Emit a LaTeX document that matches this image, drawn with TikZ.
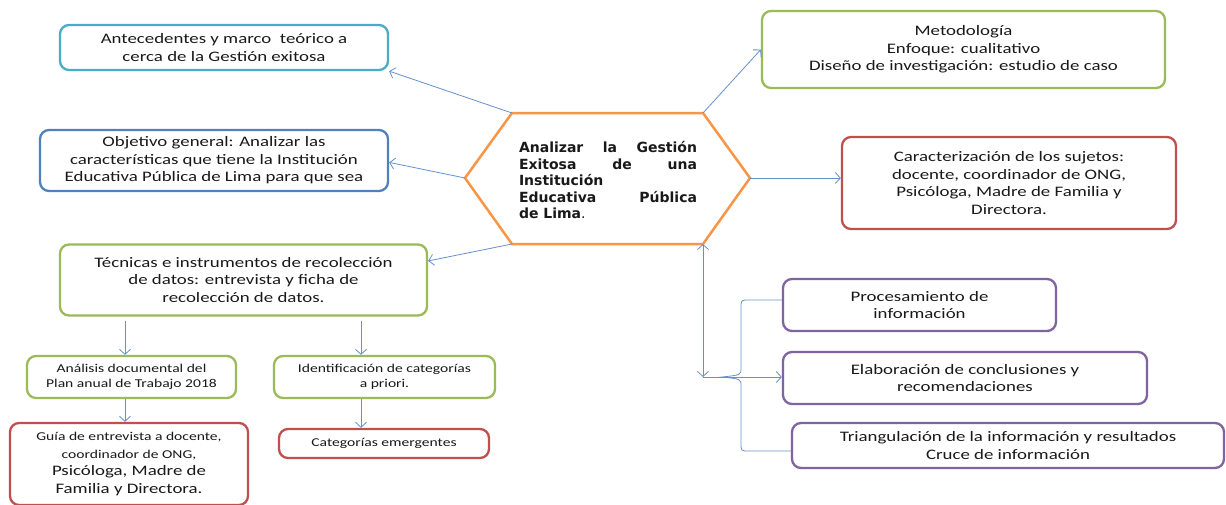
\documentclass[tikz,border=0pt]{standalone}
\usepackage{fontspec}
\setmainfont{Carlito}[FakeStretch=1.3]
\newfontfamily\hexfont{DejaVu Sans}
\usetikzlibrary{arrows.meta,calc}
\definecolor{cCyan}{RGB}{75,172,198}
\definecolor{cBlue}{RGB}{79,129,189}
\definecolor{cGreen}{RGB}{155,187,89}
\definecolor{cRed}{RGB}{192,80,77}
\definecolor{cPurple}{RGB}{128,100,162}
\definecolor{cOrange}{RGB}{247,150,70}
\definecolor{cArrow}{RGB}{100,145,205}
\definecolor{cText}{RGB}{25,25,25}
\newcommand\hexline[2]{\makebox[178pt][#1]{#2}}
\begin{document}
\begin{tikzpicture}[x=1pt,y=-1pt,
  box/.style={draw, rounded corners=9pt, line width=2.3pt, fill=white, align=center, inner sep=0pt,
    text=cText, font=\fontsize{14.5}{17.5}\selectfont},
  smallbox/.style={box, font=\fontsize{12}{15}\selectfont},
  conn/.style={draw=cArrow, line width=0.8pt, -{Straight Barb[length=5pt,width=11pt]}},
  bothconn/.style={draw=cArrow, line width=0.8pt, {Straight Barb[length=5pt,width=11pt]}-{Straight Barb[length=5pt,width=11pt]}},
  brace/.style={draw=cArrow, line width=0.8pt}]
\useasboundingbox (0,0) rectangle (1226,504);
\fill[white] (0,0) rectangle (1226,504);

% boxes
\node[box, draw=cCyan, minimum width=328pt, minimum height=45pt] (ante) at (224,47.5)
  {Antecedentes y marco\ \ teórico a\\cerca de la Gestión exitosa};
\node[box, draw=cBlue, minimum width=348pt, minimum height=61pt] (obj) at (214,160.5)
  {Objetivo general: Analizar las\\características que tiene la Institución\\Educativa Pública de Lima para que sea};
\node[box, draw=cGreen, minimum width=367pt, minimum height=71pt] (tec) at (243.5,280)
  {Técnicas e instrumentos de recolección\\de datos: entrevista y ficha de\\recolección de datos.};
\node[smallbox, draw=cGreen, minimum width=209pt, minimum height=42pt] (anal) at (131.5,377)
  {Análisis documental del\\Plan anual de Trabajo 2018};
\node[smallbox, draw=cGreen, minimum width=221pt, minimum height=42pt] (iden) at (384.5,377)
  {Identificación de categorías\\a priori.};
\node[box, draw=cRed, minimum width=238pt, minimum height=82pt] (guia) at (129,464)
  {{\fontsize{12}{17}\selectfont Guía de entrevista a docente,}\\{\fontsize{12}{17}\selectfont coordinador de ONG,}\\Psicóloga, Madre de\\Familia y Directora.};
\node[smallbox, draw=cRed, minimum width=210pt, minimum height=29pt] (cat) at (384,443.5)
  {Categorías emergentes};
\node[box, draw=cGreen, minimum width=403pt, minimum height=77pt] (meto) at (963.5,49.5)
  {Metodología\\Enfoque: cualitativo\\Diseño de investigación: estudio de caso};
\node[box, draw=cRed, minimum width=334pt, minimum height=92pt] (car) at (1009,183)
  {Caracterización de los sujetos:\\docente,\ coordinador de ONG,\\Psicóloga, Madre de Familia y\\Directora.};
\node[box, draw=cPurple, minimum width=273pt, minimum height=52pt] (proc) at (919.5,305)
  {Procesamiento de\\información};
\node[box, draw=cPurple, minimum width=364pt, minimum height=52pt] (elab) at (965,378)
  {Elaboración de conclusiones y\\recomendaciones};
\node[box, draw=cPurple, minimum width=432pt, minimum height=45pt] (tri) at (1008,445.5)
  {Triangulación de la información y resultados\\Cruce de información};

% hexagon
\coordinate (hL) at (465,178);
\coordinate (hTL) at (512,113);
\coordinate (hTR) at (703,113);
\coordinate (hR) at (750,178);
\coordinate (hBR) at (703,244);
\coordinate (hBL) at (512,244);
\draw[cOrange, line width=2.5pt, line join=miter, fill=white] (hL) -- (hTL) -- (hTR) -- (hR) -- (hBR) -- (hBL) -- cycle;
\node[align=left, inner sep=0pt, text=cText,
  font=\hexfont\bfseries\fontsize{14}{16.5}\selectfont] (hex) at (608,180)
  {\hexline{s}{Analizar la Gestión}\\
   \hexline{s}{Exitosa de una}\\
   \hexline{l}{Institución}\\
   \hexline{s}{Educativa Pública}\\
   \hexline{l}{de Lima\textmd{.}}};

% connectors from hexagon
\draw[conn] (hTL) -- (ante.south east);
\draw[conn] (hL) -- ($(obj.north east)!0.53!(obj.south east)$);
\draw[conn] (hBL) -- ($(tec.north east)!0.24!(tec.south east)$);
\draw[conn] (hTR) -- (meto.west);
\draw[conn] (hR) -- (car.west |- hR);

% lower left arrows
\coordinate (t1) at (125,321);
\coordinate (t2) at (361,321);
\draw[conn] (t1) -- (t1 |- anal.north);
\draw[conn] (t2) -- (t2 |- iden.north);
\draw[conn] (t1 |- anal.south) -- (t1 |- guia.north);
\draw[conn] (t2 |- iden.south) -- (t2 |- cat.north);

% lower right
\coordinate (j) at (703,377);
\draw[bothconn] (hBR) -- (j);
\draw[conn] (j) -- (elab.west |- j);
\coordinate (bT) at (741,300);
\coordinate (bB) at (741,451);
\draw[brace] (proc.west |- bT) -- ($(bT)+(8,0)$) .. controls (bT) .. ($(bT)+(0,8)$)
  -- (741,368) .. controls (741,375) .. (722,377)
  .. controls (741,379) .. (741,386) -- ($(bB)+(0,-8)$) .. controls (bB) .. ($(bB)+(8,0)$) -- (tri.west |- bB);
\end{tikzpicture}
\end{document}
